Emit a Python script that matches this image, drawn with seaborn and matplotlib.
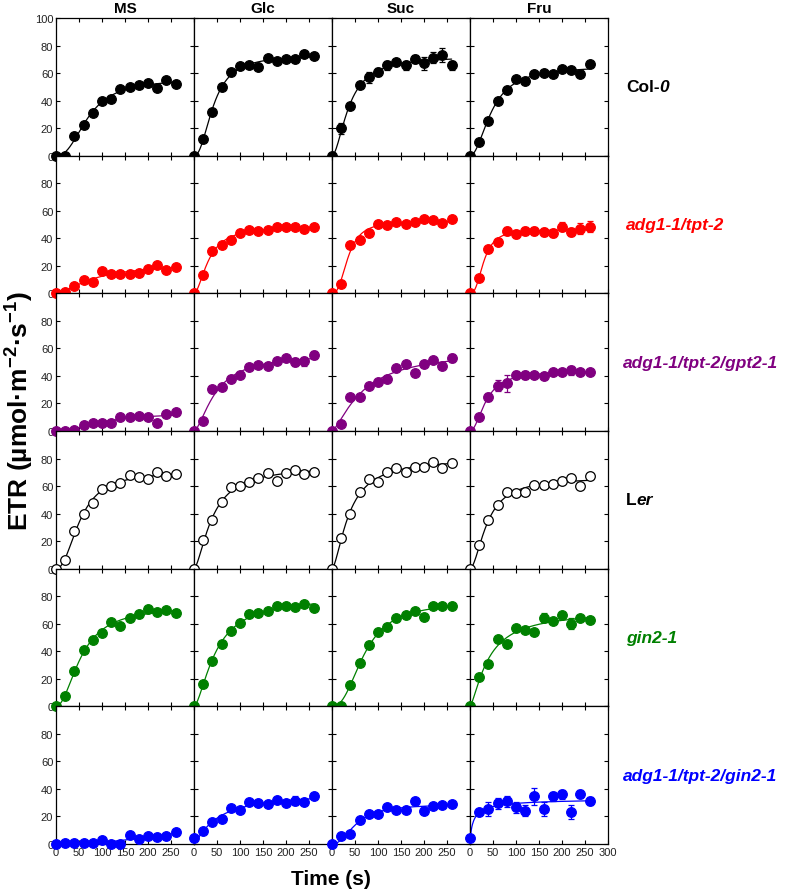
import numpy as np
import pandas as pd
import seaborn as sns
import matplotlib.pyplot as plt

# 数据 (ETR, 每20 s 一个点)
time = [0, 20, 40, 60, 80, 100, 120, 140, 160, 180, 200, 220, 240, 260]
sugars = ["MS", "Glc", "Suc", "Fru"]

col0 = {
    "MS":  [0, 0, 14, 22, 31, 40, 41, 48.5, 50, 51, 53, 49, 55, 52],
    "Glc": [0, 12, 32, 50, 61, 65, 65.5, 64.5, 71, 69, 70, 70, 74, 72.5],
    "Suc": [0, 20, 36, 51.5, 57, 61, 65.5, 68, 65.5, 70, 67, 71, 73, 65.5],
    "Fru": [0, 10, 25, 40, 47.5, 55.5, 54, 59, 60, 59, 63, 62, 59.5, 66.5],
}
adg1 = {
    "MS":  [0, 1, 5, 9.5, 8, 16, 14, 14, 14, 15, 18, 20.5, 17, 19],
    "Glc": [0, 13, 31, 35, 39, 44, 46, 45, 46, 48, 48.5, 48, 47, 48],
    "Suc": [0, 7, 35, 39, 43.5, 50, 49.5, 52, 50, 51.5, 54, 53, 51, 54],
    "Fru": [0, 11, 32, 37.5, 45, 43, 45.5, 45.5, 44.5, 44, 48.5, 44.5, 47, 48.5],
}
adg1_gpt2 = {
    "MS":  [0, 0, 1, 4, 6, 6, 5.5, 10.5, 10, 11, 10, 6, 12, 14],
    "Glc": [0, 7, 30.5, 32, 38, 41, 46.5, 48, 47.5, 50.5, 53, 50, 50.5, 55],
    "Suc": [0, 5, 25, 25, 33, 35.5, 38, 45.5, 48.5, 42, 49, 51.5, 47, 53],
    "Fru": [0, 10, 24.5, 33, 34.5, 40.5, 40.5, 40.5, 40, 42.5, 43, 44, 43, 42.5],
}
ler = {
    "MS":  [0, 6, 27, 40, 48, 57.5, 60, 62, 68, 66.5, 65, 70.5, 67, 68.5],
    "Glc": [0, 21, 35.5, 48.5, 59, 60, 63, 66, 69.5, 64, 69.5, 72, 69, 70.5],
    "Suc": [0, 22.5, 40, 56, 65, 63, 70, 73, 70.5, 74, 74, 77.5, 73, 77],
    "Fru": [0, 17, 35, 46, 56, 55, 56, 61, 61, 61.5, 64, 65.5, 60, 67],
}
gin2 = {
    "MS":  [0, 7.5, 25.5, 41, 48.5, 53, 61.5, 58, 64.5, 67, 71, 68.5, 70, 67.5],
    "Glc": [0, 16.5, 33, 45.5, 55, 60.5, 67, 67.5, 69.5, 73, 72.5, 72, 74.5, 71.5],
    "Suc": [0, 0, 15.5, 31.5, 44.5, 54, 57.5, 64.5, 66.5, 69.5, 65, 72.5, 72.5, 73],
    "Fru": [0, 21, 31, 49, 45, 57, 55.5, 54, 64.5, 62, 66.5, 60, 64.5, 63],
}
adg1_gin2 = {
    "MS":  [0, 1, 1, 1, 0.5, 3, 0, 0, 6.5, 3.5, 5.5, 5, 5.5, 9],
    "Glc": [4, 9.5, 16, 18, 26, 25, 30.5, 30, 29, 32, 30, 31.5, 30.5, 35],
    "Suc": [0, 5.5, 7.5, 17.5, 21.5, 21.5, 27, 25, 24.5, 31, 24, 27.5, 28.5, 29],
    "Fru": [4, 23.5, 25.5, 29.5, 31, 26.5, 24, 34.5, 25.5, 34.5, 36, 23.5, 36.5, 31],
}

# 误差棒 (只列出看得见的)
col0_err = {"Suc": [0, 4, 2, 2, 4, 3, 3, 2, 3, 3, 5, 4, 5, 3]}
adg1_err = {"Fru": [0, 1, 2, 2, 3, 3, 3, 3, 3, 3, 3, 3, 4, 4]}
adg1_gpt2_err = {"Glc": [0, 0, 1, 1, 1, 1, 1, 1, 1, 1, 2, 3, 3, 3],
                 "Suc": [0, 0, 1, 1, 1, 1, 1, 1, 1, 1, 1, 1, 1, 3],
                 "Fru": [0, 1, 3, 4, 6, 3, 3, 2, 2, 2, 2, 3, 2, 2]}
ler_err = {}
gin2_err = {"Suc": [0, 0, 1, 1, 2, 2, 2, 2, 1, 1, 2, 1, 1, 2],
            "Fru": [0, 1, 1, 1, 1, 1, 1, 1, 3, 1, 1, 4, 1, 1]}
adg1_gin2_err = {"Glc": [0, 0, 0, 0, 0, 0, 0, 0, 0, 0, 1, 3, 1, 1],
                 "Fru": [0, 2, 5, 4, 4, 4, 4, 6, 5, 3, 3, 5, 3, 3]}

# 基因型标签: (正体部分, 斜体部分)
genotypes = [("Col-", "0"), ("", "adg1-1/tpt-2"), ("", "adg1-1/tpt-2/gpt2-1"),
             ("L", "er"), ("", "gin2-1"), ("", "adg1-1/tpt-2/gin2-1")]
row_data = [col0, adg1, adg1_gpt2, ler, gin2, adg1_gin2]
row_err = [col0_err, adg1_err, adg1_gpt2_err, ler_err, gin2_err, adg1_gin2_err]
colors = ["black", "#FF0000", "#800080", "black", "#008000", "#0000FF"]
open_marker = [False, False, False, True, False, False]


def hill_fit(t, y):
    # 简单网格搜索拟合 y = a*t^n/(k^n+t^n)
    t = np.asarray(t, float)
    y = np.asarray(y, float)
    best = None
    for k in np.linspace(5, 300, 119):
        for n in np.linspace(0.8, 10, 47):
            f = t**n / (k**n + t**n)
            a = (f @ y) / (f @ f)
            r = ((a * f - y) ** 2).sum()
            if best is None or r < best[0]:
                best = (r, a, k, n)
    _, a, k, n = best
    tt = np.linspace(0, 260, 200)
    return tt, a * tt**n / (k**n + tt**n)


sns.set_style("ticks")
plt.rcParams['font.family'] = ['Liberation Sans', 'DejaVu Sans']
plt.rcParams['text.color'] = 'black'
plt.rcParams['xtick.color'] = 'black'
plt.rcParams['ytick.color'] = 'black'
plt.rcParams['mathtext.fontset'] = 'custom'
plt.rcParams['mathtext.rm'] = 'Liberation Sans:bold'
plt.rcParams['mathtext.it'] = 'Liberation Sans:bold:italic'
plt.rcParams['mathtext.bf'] = 'Liberation Sans:bold'

fig, axes = plt.subplots(6, 4, figsize=(7.87, 8.95), dpi=100)
fig.subplots_adjust(left=0.0712, right=0.7726, top=0.9788, bottom=0.0559, wspace=0, hspace=0)

for i in range(6):
    for j, s in enumerate(sugars):
        ax = axes[i, j]
        y = row_data[i][s]
        df = pd.DataFrame({"t": time, "etr": y})
        tt, yy = hill_fit(time, y)
        sns.lineplot(x=tt, y=yy, ax=ax, color=colors[i], lw=0.9, zorder=2)
        if s in row_err[i]:
            ax.errorbar(time, y, yerr=row_err[i][s], fmt="none", ecolor=colors[i],
                        elinewidth=0.9, capsize=2, capthick=0.9, zorder=3, clip_on=False)
        face = "white" if open_marker[i] else colors[i]
        sns.scatterplot(data=df, x="t", y="etr", ax=ax, s=48, color=face,
                        edgecolor=colors[i], linewidth=0.9, zorder=5, clip_on=False)
        ax.set_xlim(0, 300)
        ax.set_ylim(0, 100)
        ax.set_xlabel("")
        ax.set_ylabel("")
        ax.set_xticks([0, 50, 100, 150, 200, 250, 300])
        ax.set_yticks([0, 20, 40, 60, 80, 100])
        ax.tick_params(direction="in", top=True, right=True, length=3, width=0.8,
                       labelsize=8, labelcolor="#222222", pad=2)
        for sp in ax.spines.values():
            sp.set_linewidth(0.9)
            sp.set_color("black")
            sp.set_zorder(4)
        # 刻度标签
        if j == 0:
            ax.set_yticklabels(["0", "20", "40", "60", "80", "100" if i == 0 else ""])
        else:
            ax.set_yticklabels([])
        if i == 5:
            ax.set_xticklabels(["0", "50", "100", "150", "200", "250", "300" if j == 3 else ""])
        else:
            ax.set_xticklabels([])

for j, s in enumerate(sugars):
    axes[0, j].set_title(s, fontsize=11, fontweight="bold", pad=4)

for i, (plain, ital) in enumerate(genotypes):
    ax = axes[i, 3]
    x0 = 1.13 if len(ital) < 15 else 1.105
    if plain:
        t1 = ax.text(x0, 0.5, plain, transform=ax.transAxes, ha="left", va="center",
                     fontsize=12.5, fontweight="bold", color=colors[i])
        ax.annotate(ital, xy=(1, 0), xycoords=t1, ha="left", va="bottom",
                    fontsize=12.5, fontweight="bold", fontstyle="italic", color=colors[i])
    else:
        ax.text(x0, 0.5, ital, transform=ax.transAxes, ha="left", va="center",
                fontsize=12.5, fontweight="bold", fontstyle="italic", color=colors[i])

fig.text(0.025, 0.541, "ETR (µmol·m$^{-2}$·s$^{-1}$)", rotation=90, ha="center", va="center",
         fontsize=19, fontweight="bold")
fig.text(0.42, 0.017, "Time (s)", ha="center", va="center", fontsize=15, fontweight="bold")

plt.savefig("out.png", dpi=100)
